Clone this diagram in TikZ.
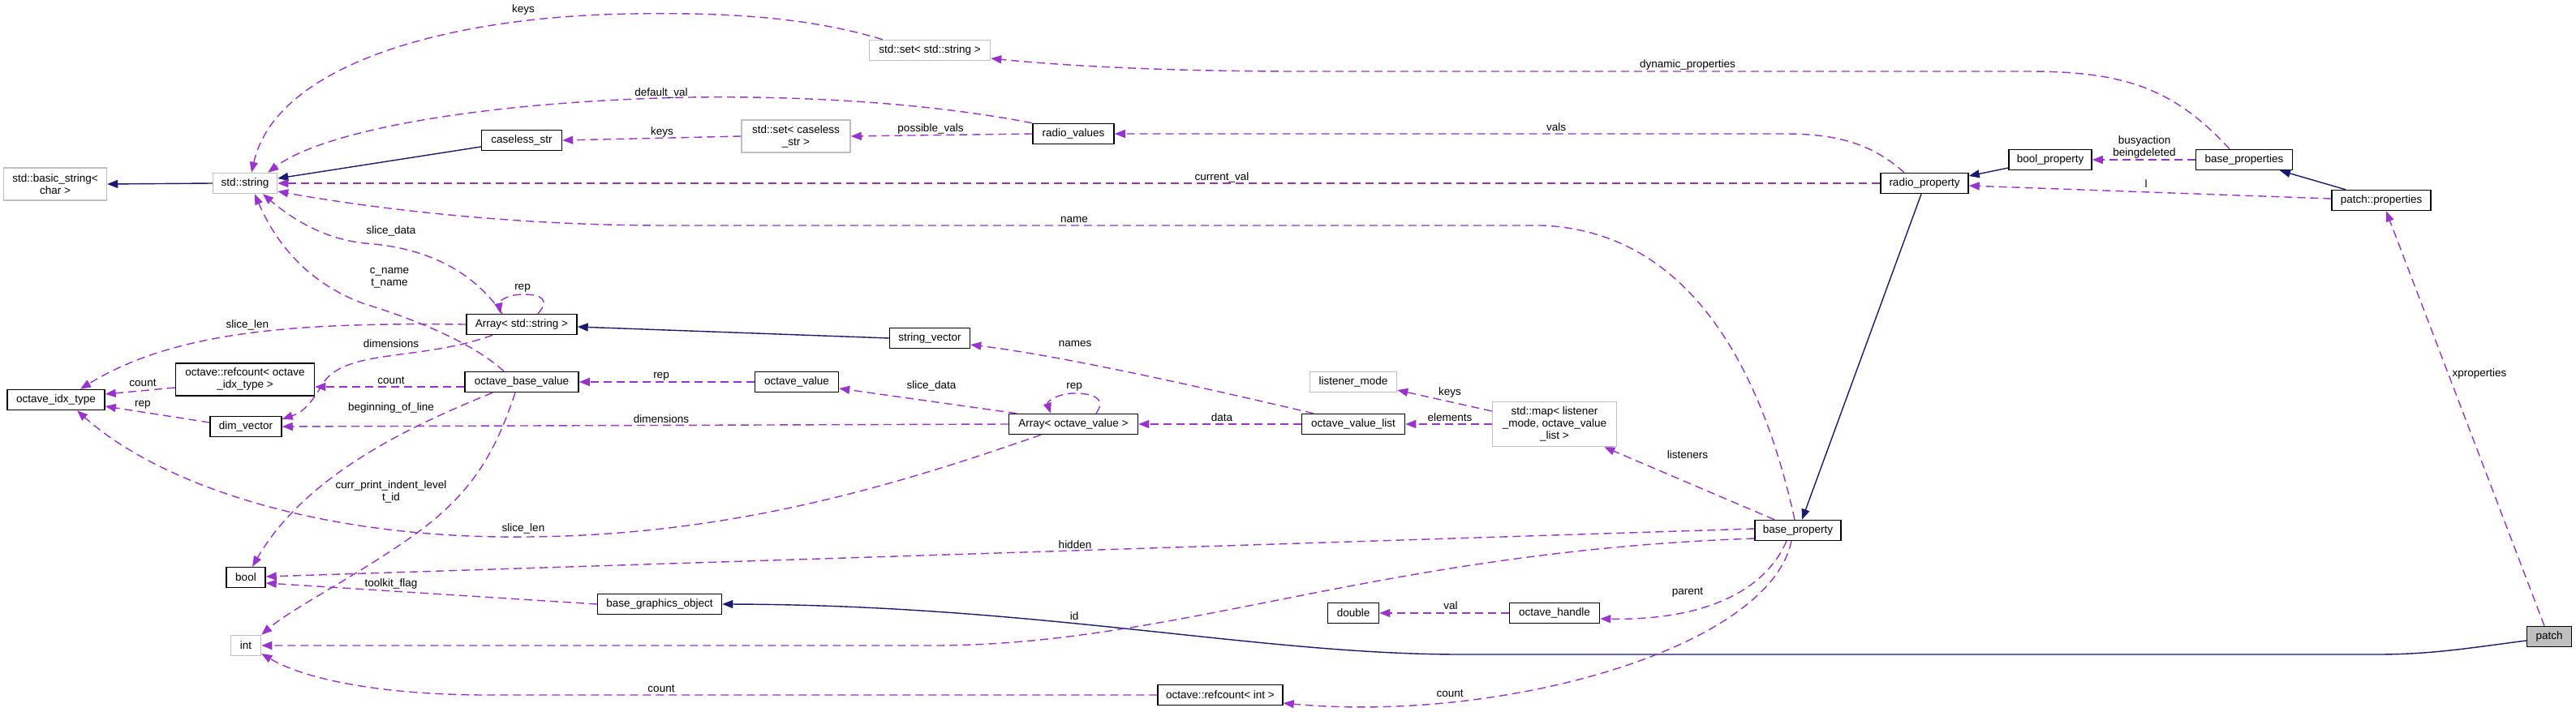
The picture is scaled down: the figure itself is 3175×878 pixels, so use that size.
\documentclass[tikz,border=0pt]{standalone}
\usepackage{fontspec}
\setmainfont{Liberation Sans}
\usetikzlibrary{arrows.meta,calc}
\newcommand\dfont{\fontsize{13.5}{15}\selectfont}
\definecolor{inhc}{HTML}{191970}
\definecolor{usec}{HTML}{9A32CD}
\definecolor{extc}{HTML}{BFBFBF}
\definecolor{patchfill}{HTML}{BFBFBF}
\tikzset{
  cls/.style={draw=black, line width=1.5pt, fill=white, inner sep=0pt, minimum height=25pt, align=center, font=\dfont},
  ext/.style={cls, draw=extc},
  lbl/.style={inner sep=0pt, font=\dfont, align=center},
  inh/.style={draw=inhc, line width=1.4pt, -{Triangle[length=13pt,width=10pt]}},
  use/.style={draw=usec, line width=1.4pt, dash pattern=on 10pt off 6pt, -{Triangle[length=13pt,width=10pt]}},
}
\begin{document}
\begin{tikzpicture}[x=1pt,y=-1pt]
\useasboundingbox (0,0) rectangle (3175,878);
% nodes
\node[ext, minimum width=127pt, minimum height=40pt] (bs) at (68,227) {std::basic\_string<\\char >};
\node[ext, minimum width=79pt] (str) at (302,226) {std::string};
\node[cls, minimum width=99pt] (cs) at (643,173) {caseless\_str};
\node[cls, minimum width=136pt] (ass) at (643,400) {Array< std::string >};
\node[ext, minimum width=149pt] (sss) at (1146,62) {std::set< std::string >};
\node[ext, minimum width=134pt, minimum height=40pt] (scs) at (981,168) {std::set< caseless\\\_str >};
\node[cls, minimum width=100pt] (rv) at (1323,165) {radio\_values};
\node[cls, minimum width=99pt] (sv) at (1146,417) {string\_vector};
\node[cls, minimum width=108pt] (rp) at (2372,226) {radio\_property};
\node[cls, minimum width=102pt] (bp2) at (2527,197) {bool\_property};
\node[cls, minimum width=119pt] (bps) at (2766,197) {base\_properties};
\node[cls, minimum width=122pt] (pp) at (2935,247) {patch::properties};
\node[cls, minimum width=120pt] (oit) at (69,493) {octave\_idx\_type};
\node[cls, minimum width=171pt, minimum height=40pt] (rc) at (302,468) {octave::refcount< octave\\\_idx\_type >};
\node[cls, minimum width=88pt] (dv) at (303,526) {dim\_vector};
\node[cls, minimum width=140pt] (obv) at (643,471) {octave\_base\_value};
\node[cls, minimum width=48pt] (bool) at (303,712) {bool};
\node[ext, minimum width=37pt] (int) at (303,796) {int};
\node[cls, minimum width=153pt] (bgo) at (813,745) {base\_graphics\_object};
\node[cls, minimum width=103pt] (ov) at (982,471) {octave\_value};
\node[cls, minimum width=159pt] (aov) at (1323,523) {Array< octave\_value >};
\node[cls, minimum width=154pt] (rci) at (1504,857) {octave::refcount< int >};
\node[ext, minimum width=107pt] (lm) at (1668,471) {listener\_mode};
\node[cls, minimum width=127pt] (ovl) at (1668,523) {octave\_value\_list};
\node[ext, minimum width=153pt, minimum height=55pt] (map) at (1916,523) {std::map< listener\\\_mode, octave\_value\\\_list >};
\node[cls, minimum width=106pt] (bprop) at (2216,654) {base\_property};
\node[cls, minimum width=63pt] (dbl) at (1668,756) {double};
\node[cls, minimum width=111pt] (oh) at (1916,756) {octave\_handle};
\node[cls, minimum width=55pt, fill=patchfill] (patch) at (3142,785) {patch};
% inheritance
\draw[inh] (str.west) -- (bs.east);
\draw[inh] ($(cs.west)+(0,8)$) -- ($(str.east)+(0,-6)$);
\draw[inh] (sv.west) -- ($(ass.east)+(0,3)$);
\draw[inh] ($(bp2.west)+(0,10)$) -- ($(rp.east)+(0,-9)$);
\draw[inh] ($(rp.south)+(-4,0)$) -- ($(bprop.north)+(5,0)$);
\draw[inh] ($(pp.north)+(-44,0)$) -- ($(bps.south)+(44,0)$);
\draw[inh] ($(patch.west)+(0,5)$) .. controls (3050,798) and (3000,807) .. (2930,807) -- (1800,807) .. controls (1550,807) and (1280,746) .. (bgo.east);
% usage
\draw[use] ($(sss.north west)+(17,0)$) .. controls (1000,22) and (900,15) .. (780,17) .. controls (550,20) and (340,80) .. ($(str.north)+(8,0)$);
\draw[use] (rv.north west) .. controls (1150,128) and (1000,118) .. (850,120) .. controls (600,125) and (400,160) .. ($(str.north east)+(-12,0)$);
\draw[use] (scs.west) -- (cs.east);
\draw[use] (rv.west) -- (scs.east);
\draw[use] (rp.west) -- (str.east);
\draw[use] ($(bprop.north)+(-4,0)$) .. controls (2170,450) and (2080,285) .. (1900,278) -- (820,278) .. controls (600,278) and (420,250) .. ($(str.east)+(0,10)$);
\draw[use] ($(bps.north)+(-18,0)$) .. controls (2680,110) and (2620,88) .. (2500,88) -- (1600,88) .. controls (1450,88) and (1320,82) .. ($(sss.east)+(0,10)$);
\draw[use] ($(rp.north)+(-25,0)$) .. controls (2310,180) and (2270,165) .. (2200,165) -- (rv.east);
\draw[use] (bps.west) -- (bp2.east);
\draw[use] ($(pp.west)+(0,-2)$) -- ($(rp.east)+(0,3)$);
\draw[use] ($(patch.north)+(-6,0)$) -- ($(pp.south)+(6,0)$);
\draw[use] ($(ass.north)+(20,0)$) .. controls (678,370) and (668,363) .. (645,363) .. controls (625,363) and (614,372) .. ($(ass.north)+(-26,0)$);
\draw[use] ($(ass.north)+(-24,0)$) .. controls (580,330) and (520,305) .. (450,300) .. controls (400,295) and (360,270) .. ($(str.south)+(22,0)$);
\draw[use] ($(obv.north)+(-22,0)$) .. controls (580,420) and (500,390) .. (450,375) .. controls (380,350) and (340,300) .. ($(str.south)+(12,0)$);
\draw[use] (ass.west) .. controls (380,398) and (220,405) .. ($(oit.north)+(30,0)$);
\draw[use] ($(ass.south)+(-36,0)$) .. controls (520,445) and (430,430) .. (400,470) .. controls (385,495) and (375,508) .. ($(dv.north east)+(0,4)$);
\draw[use] ($(rc.west)+(0,10)$) -- ($(oit.east)+(0,-7)$);
\draw[use] ($(dv.west)+(0,-5)$) -- ($(oit.east)+(0,8)$);
\draw[use] ($(obv.west)+(0,6)$) -- ($(rc.east)+(0,9)$);
\draw[use] (ov.west) -- (obv.east);
\draw[use] ($(obv.south)+(-36,0)$) .. controls (520,520) and (380,580) .. ($(bool.north)+(8,0)$);
\draw[use] ($(obv.south)+(-8,0)$) .. controls (610,560) and (580,610) .. (510,660) .. controls (440,710) and (360,750) .. (int.north east);
\draw[use] ($(aov.south)+(-40,0)$) .. controls (1100,600) and (900,660) .. (650,662) .. controls (400,665) and (200,600) .. ($(oit.south)+(26,0)$);
\draw[use] (aov.west) -- (dv.east);
\draw[use] ($(aov.north west)+(10,0)$) -- ($(ov.east)+(0,8)$);
\draw[use] ($(aov.north)+(28,0)$) .. controls (1365,490) and (1345,485) .. (1324,485) .. controls (1305,485) and (1290,495) .. ($(aov.north)+(-28,0)$);
\draw[use] (ovl.west) -- (aov.east);
\draw[use] ($(ovl.north west)+(15,0)$) .. controls (1450,470) and (1300,438) .. ($(sv.east)+(0,8)$);
\draw[use] ($(map.west)+(0,-16)$) -- ($(lm.east)+(0,10)$);
\draw[use] (map.west) -- (ovl.east);
\draw[use] ($(bprop.north)+(-29,0)$) -- ($(map.south east)+(-16,0)$);
\draw[use] ($(bprop.west)+(0,-2)$) -- ($(bool.east)+(0,-1)$);
\draw[use] (bgo.west) -- ($(bool.east)+(0,7)$);
\draw[use] ($(bprop.west)+(0,10)$) .. controls (1700,680) and (1450,796) .. (1150,796) -- (int.east);
\draw[use] ($(bprop.south)+(-14,0)$) .. controls (2170,740) and (2080,765) .. ($(oh.east)+(0,7)$);
\draw[use] (oh.west) -- (dbl.east);
\draw[use] ($(bprop.south)+(-8,0)$) .. controls (2180,800) and (1850,892) .. ($(rci.east)+(0,10)$);
\draw[use] (rci.west) -- (600,857) .. controls (480,857) and (380,840) .. ($(int.east)+(0,10)$);
% labels
\node[lbl] (l1) at (645,12) {keys};
\node[lbl] (l2) at (815,115) {default\_val};
\node[lbl] (l3) at (816,163) {keys};
\node[lbl] (l4) at (1147,159) {possible\_vals};
\node[lbl] (l5) at (1506,219) {current\_val};
\node[lbl] (l6) at (1324,271) {name};
\node[lbl] (l7) at (2080,80) {dynamic\_properties};
\node[lbl] (l8) at (1918,157) {vals};
\node[lbl] (l9) at (2643,182) {busyaction\\beingdeleted};
\node[lbl] (l10) at (2645,227) {l};
\node[lbl] (l11) at (3056,461) {xproperties};
\node[lbl] (l12) at (482,285) {slice\_data};
\node[lbl] (l13) at (480,343) {c\_name\\t\_name};
\node[lbl] (l14) at (644,355) {rep};
\node[lbl] (l15) at (305,401) {slice\_len};
\node[lbl] (l16) at (482,424) {dimensions};
\node[lbl] (l17) at (176,472) {count};
\node[lbl] (l18) at (176,499) {rep};
\node[lbl] (l19) at (482,469) {count};
\node[lbl] (l20) at (482,503) {beginning\_of\_line};
\node[lbl] (l21) at (482,606) {curr\_print\_indent\_level\\t\_id};
\node[lbl] (l22) at (645,652) {slice\_len};
\node[lbl] (l23) at (482,720) {toolkit\_flag};
\node[lbl] (l24) at (815,517) {dimensions};
\node[lbl] (l25) at (815,464) {rep};
\node[lbl] (l26) at (1148,476) {slice\_data};
\node[lbl] (l27) at (1324,477) {rep};
\node[lbl] (l28) at (1506,515) {data};
\node[lbl] (l29) at (1325,672) {hidden};
\node[lbl] (l30) at (1324,760) {id};
\node[lbl] (l31) at (815,849) {count};
\node[lbl] (l32) at (1325,424) {names};
\node[lbl] (l33) at (1787,484) {keys};
\node[lbl] (l34) at (1787,515) {elements};
\node[lbl] (l35) at (2080,561) {listeners};
\node[lbl] (l36) at (2080,731) {parent};
\node[lbl] (l37) at (1788,747) {val};
\node[lbl] (l38) at (1787,855) {count};
\end{tikzpicture}
\end{document}
